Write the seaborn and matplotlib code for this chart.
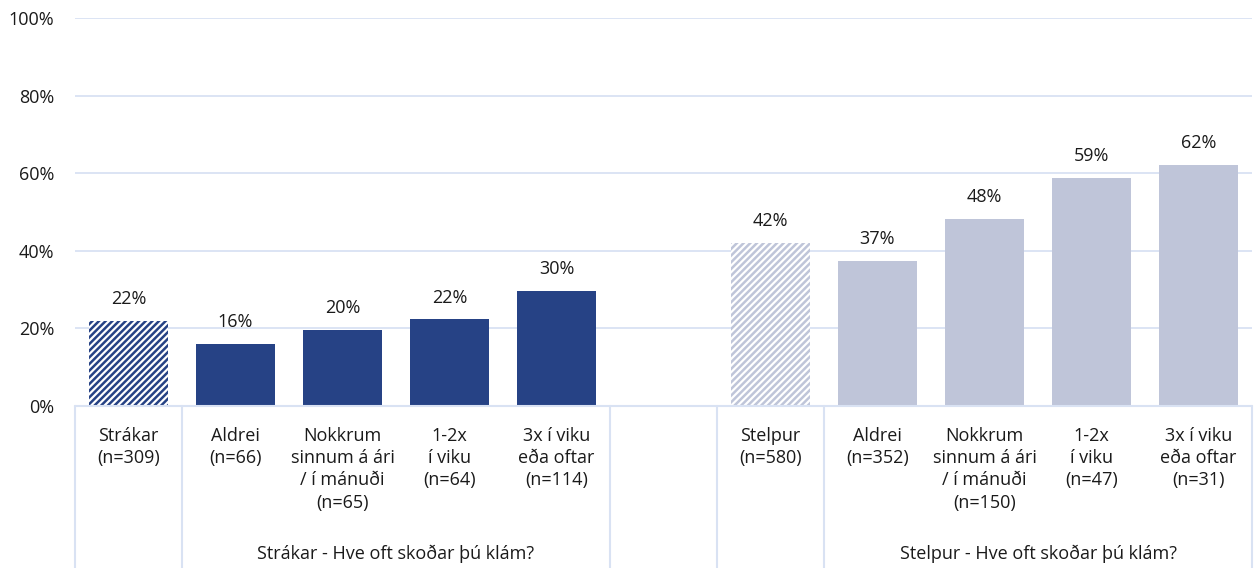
import matplotlib
matplotlib.use("Agg")
import matplotlib.pyplot as plt
import matplotlib.transforms as mtransforms
import numpy as np
import pandas as pd
import seaborn as sns

# data
slots = ["Strákar", "B Aldrei", "B Nokkrum", "B 1-2x", "B 3x", "gap",
         "Stelpur", "G Aldrei", "G Nokkrum", "G 1-2x", "G 3x"]
values = [21.9, 16.0, 19.6, 22.3, 29.6, np.nan, 42.1, 37.4, 48.2, 58.8, 62.1]
tick_labels = ["Strákar\n(n=309)", "Aldrei\n(n=66)", "Nokkrum\nsinnum á ári\n/ í mánuði\n(n=65)",
               "1-2x\ní viku\n(n=64)", "3x í viku\neða oftar\n(n=114)", "",
               "Stelpur\n(n=580)", "Aldrei\n(n=352)", "Nokkrum\nsinnum á ári\n/ í mánuði\n(n=150)",
               "1-2x\ní viku\n(n=47)", "3x í viku\neða oftar\n(n=31)"]
group_labels = ["Strákar - Hve oft skoðar þú klám?", "Stelpur - Hve oft skoðar þú klám?"]
group_slots = [(1, 4), (7, 10)]
hatched = [0, 6]

navy = "#264285"
light = "#BFC5D9"
grid_col = "#D9E2F3"
text_col = "#1a1a1a"
colors = [navy] * 5 + ["#ffffff"] + [light] * 5
fs = 13

df = pd.DataFrame({"slot": slots, "value": values})

sns.set_theme(style="white")
plt.rcParams["font.family"] = ["Open Sans", "DejaVu Sans"]
plt.rcParams["hatch.linewidth"] = 1.8

fig = plt.figure(figsize=(12.54, 5.68), dpi=100)
ax = fig.add_axes([75 / 1254, 1 - 406 / 568, 1177 / 1254, (406 - 18) / 568])

sns.barplot(data=df, x="slot", y="value", hue="slot", order=slots, hue_order=slots,
            palette=dict(zip(slots, colors)), legend=False, width=0.73,
            saturation=1, ax=ax, zorder=3)

for p in ax.patches:
    p.set_linewidth(0)
    cx = p.get_x() + p.get_width() / 2
    idx = int(round(cx))
    if idx in hatched:
        # striped bars: colour lines on white
        p.set_facecolor("white")
        p.set_edgecolor(colors[idx])
        p.set_hatch("/////")
    h = p.get_height()
    if np.isfinite(h) and h > 0:
        ax.text(cx, h + 3.3, f"{h:.0f}%", ha="center", va="bottom", fontsize=fs, color=text_col)

ax.set_xlim(-0.5, 10.5)
ax.set_ylim(0, 100)
ax.set_yticks(range(0, 101, 20))
ax.set_yticklabels([f"{v}%" for v in range(0, 101, 20)], fontsize=fs, color=text_col)
ax.tick_params(axis="y", length=0, pad=15)
ax.set_xticks([])
ax.set_xlabel("")
ax.set_ylabel("")
for v in range(20, 101, 20):
    ax.axhline(v, color=grid_col, lw=1.3, zorder=0)
for s in ax.spines.values():
    s.set_visible(False)
ax.axhline(0, color=grid_col, lw=1.5, zorder=4, clip_on=False)

# category labels below the axis
trans = mtransforms.blended_transform_factory(ax.transData, fig.transFigure)
for i, lab in enumerate(tick_labels):
    if lab:
        ax.text(i, 1 - 427 / 568, lab, transform=trans, ha="center", va="top",
                fontsize=fs, color=text_col, linespacing=1.3)
for (a, b), g in zip(group_slots, group_labels):
    ax.text((a + b) / 2, 1 - 554 / 568, g, transform=trans, ha="center", va="center",
            fontsize=fs, color=text_col)

# separator lines of the category table
for xb in [-0.5, 0.5, 4.5, 5.5, 6.5, 10.5]:
    ax.plot([xb, xb], [1 - 406 / 568, 0], transform=trans, color=grid_col, lw=1.5,
            clip_on=False)

fig.savefig("out.png", dpi=100)
